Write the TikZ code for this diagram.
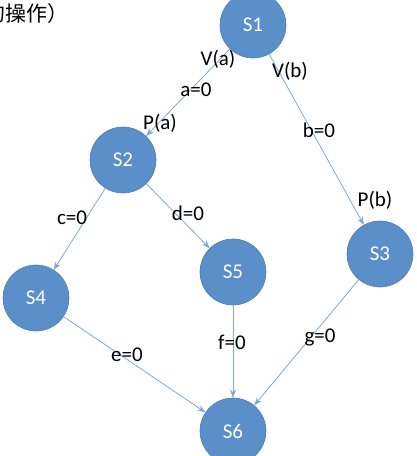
\documentclass[tikz,border=0pt]{standalone}
\usepackage{fontspec}
\setmainfont{Carlito}
\newfontfamily\cjk{Noto Sans CJK SC}
\usetikzlibrary{arrows.meta}
\definecolor{nodefill}{HTML}{5B8FC9}
\definecolor{nodeborder}{HTML}{4C7DB8}
\definecolor{edgecol}{HTML}{7FA8D4}
\tikzset{
  state/.style={circle, fill=nodefill, draw=nodeborder, line width=0.6pt, minimum size=66pt, inner sep=0pt, text=white, font=\fontsize{21}{24}\selectfont},
  conn/.style={draw=edgecol, line width=0.8pt, -{Stealth[length=8pt,width=6pt]}},
  lbl/.style={font=\fontsize{21}{24}\selectfont, inner sep=1pt}
}
\begin{document}
\begin{tikzpicture}[x=1pt,y=-1pt]
\useasboundingbox (0,0) rectangle (417,456);
\node[anchor=west, font=\cjk\fontsize{21}{24}\selectfont, inner sep=0pt] (title) at (-16,14) {的操作）};
\node[state] (s1) at (253,25) {S1};
\node[state] (s2) at (123,160) {S2};
\node[state] (s3) at (380,254) {S3};
\node[state] (s4) at (36,298) {S4};
\node[state] (s5) at (233,272) {S5};
\node[state] (s6) at (233,431) {S6};
\draw[conn] (s1) -- (s2);
\draw[conn] (s1) -- (s3);
\draw[conn] (s2) -- (s4);
\draw[conn] (s2) -- (s5);
\draw[conn] (s4) -- (s6);
\draw[conn] (s5) -- (s6);
\draw[conn] (s3) -- (s6);
\node[lbl] (va) at (218,59) {V(a)};
\node[lbl] (a0) at (196,90) {a=0};
\node[lbl] (pa) at (160,123) {P(a)};
\node[lbl] (vb) at (290,71) {V(b)};
\node[lbl] (b0) at (319,130) {b=0};
\node[lbl] (pb) at (375,200) {P(b)};
\node[lbl] (c0) at (72,218) {c=0};
\node[lbl] (d0) at (188,213) {d=0};
\node[lbl] (e0) at (127,355) {e=0};
\node[lbl] (f0) at (232,342) {f=0};
\node[lbl] (g0) at (320,337) {g=0};
\end{tikzpicture}
\end{document}
